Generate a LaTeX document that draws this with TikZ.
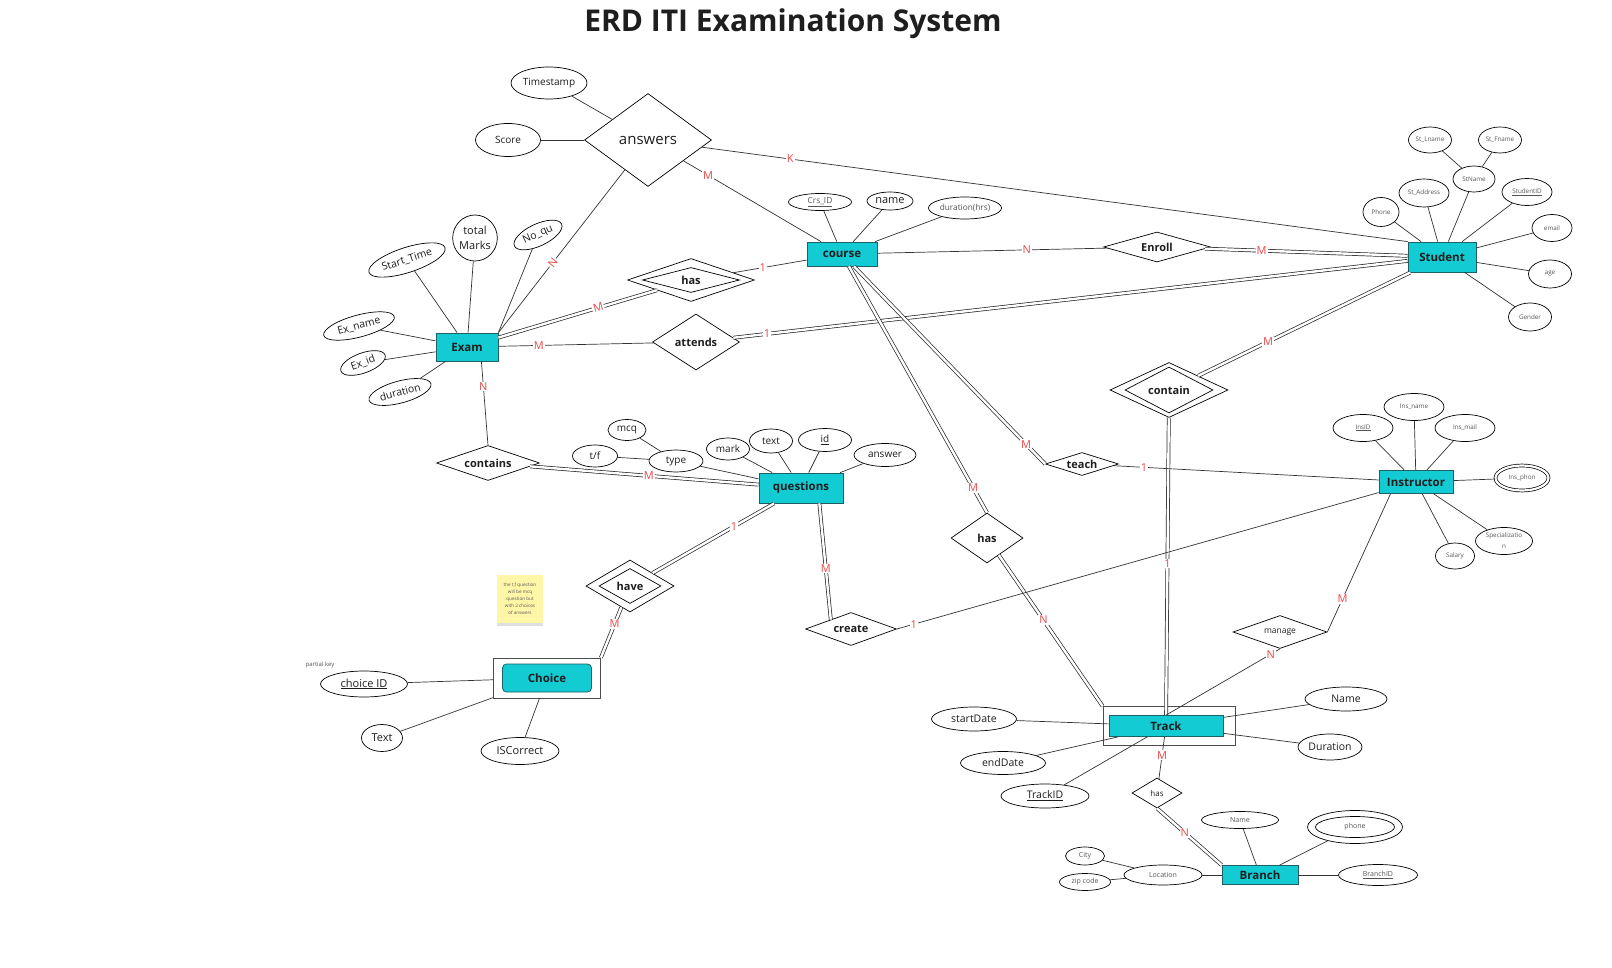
\documentclass[tikz,border=0pt]{standalone}
\usepackage{fontspec}
\setmainfont{Open Sans}
\usepackage{tikz}
\usetikzlibrary{shapes.geometric, shadows, positioning}
\definecolor{erdteal}{HTML}{12CBD3}
\definecolor{erdtealdark}{HTML}{1F5F66}
\definecolor{cardred}{HTML}{E84848}
\definecolor{inkdark}{HTML}{1E1E1E}
\definecolor{inkgrey}{HTML}{555555}
\definecolor{stickyyellow}{HTML}{FFF6A8}
\newcommand{\erdsize}[1]{\fontsize{#1}{#1}\selectfont}

\begin{document}
\begin{tikzpicture}[
  x=1pt, y=-1pt,
  entity/.style={rectangle, draw=erdtealdark, fill=erdteal, line width=0.8pt, minimum width=#1, minimum height=24pt, inner sep=0pt, font=\erdsize{11.5}\bfseries, text=inkdark},
  entity/.default=70pt,
  weakframe/.style 2 args={rectangle, draw=black!70, line width=0.8pt, fill=white, minimum width=#1, minimum height=#2, inner sep=0pt},
  attr/.style 2 args={ellipse, draw=black, line width=0.7pt, fill=white, minimum width=#1, minimum height=#2, inner sep=0pt, font=\erdsize{10.5}, text=inkdark},
  tinyattr/.style 2 args={attr={#1}{#2}, font=\erdsize{6.3}, text=inkgrey},
  rel/.style 2 args={diamond, draw=black, line width=0.7pt, fill=white, minimum width=#1pt, minimum height=#2pt, inner sep=0pt,
    /utils/exec={\pgfmathsetmacro\relaspect{#1/#2}}, aspect=\relaspect, font=\erdsize{11}\bfseries, text=inkdark},
  card/.style={text=cardred, fill=white, inner sep=1pt, font=\erdsize{11}},
  link/.style={draw=black!80, line width=0.7pt},
  dlink/.style={draw=black!85, line width=0.7pt, double=white, double distance=2.4pt}
]
  \useasboundingbox[fill=white] (0,0) rectangle (1612,968);

  % Title
  \node[font=\erdsize{30}\bfseries, text=inkdark] (title) at (793,24) {ERD ITI Examination System};

  % Entities
  \node[entity=62pt, minimum height=28pt] (exam) at (467,347) {Exam};
  \node[entity=70pt] (course) at (842,254) {course};
  \node[entity=68pt, minimum height=30pt] (student) at (1442,257) {Student};
  \node[entity=74pt, minimum height=23pt] (instructor) at (1416,482) {Instructor};
  \node[entity=84pt, minimum height=30pt] (questions) at (801,488) {questions};
  \node[entity=76pt, minimum height=19pt] (branch) at (1260,875) {Branch};

  % Weak entities
  \node[weakframe={107pt}{40pt}] (choiceout) at (547,678) {};
  \node[entity=89pt, minimum height=28pt, rounded corners=4pt] (choice) at (547,678) {Choice};
  \node[weakframe={132pt}{39pt}] (trackout) at (1169,726) {};
  \node[entity=114pt, minimum height=21pt] (track) at (1166,726) {Track};

  % Relationships
  \node[rel={127}{93}, font=\erdsize{15}] (answers) at (648,140) {answers};
  \node[rel={127}{43}] (hascourse) at (691,280) {};
  \node[rel={97}{25}] (hascoursein) at (691,280) {has};
  \node[rel={87}{56}] (attends) at (696,342) {attends};
  \node[rel={103}{35}] (contains) at (488,463) {contains};
  \node[rel={107}{30}] (enroll) at (1157,247) {Enroll};
  \node[rel={118}{55}] (contain) at (1169,390) {};
  \node[rel={88}{46}] (containin) at (1169,390) {contain};
  \node[rel={73}{23}] (teach) at (1082,464) {teach};
  \node[rel={72}{50}] (hastrack) at (987,538) {has};
  \node[rel={91}{33}] (create) at (851,629) {create};
  \node[rel={88}{52}] (have) at (630,586) {};
  \node[rel={62}{35}] (havein) at (630,586) {have};
  \node[rel={94}{33}, font=\erdsize{8.5}] (manage) at (1280,632) {manage};
  \node[rel={50}{30}, font=\erdsize{8}] (hasbranch) at (1157,793) {has};

  % answers attributes
  \node[attr={76pt}{32pt}, font=\erdsize{10}] (timestamp) at (549,83) {Timestamp};
  \node[attr={65pt}{33pt}, font=\erdsize{10}] (score) at (508,140) {Score};

  % Exam attributes
  \node[attr={41pt}{46pt}, align=center, font=\fontsize{11}{15}\selectfont] (totalmarks) at (475,238) {total\\Marks};
  \node[attr={52pt}{22pt}, rotate=25] (noqu) at (538,235) {No\_qu};
  \node[attr={80pt}{25pt}, rotate=18] (starttime) at (407,260) {Start\_Time};
  \node[attr={73pt}{22pt}, rotate=15] (exname) at (359,326) {Ex\_name};
  \node[attr={47pt}{20pt}, rotate=20] (exid) at (363,363) {Ex\_id};
  \node[attr={64pt}{22pt}, rotate=15] (exduration) at (400,392) {duration};

  % course attributes
  \node[attr={63pt}{17pt}, font=\erdsize{8.3}, text=inkgrey] (crsid) at (820,202) {\underline{Crs\_ID}};
  \node[attr={46pt}{18pt}, font=\erdsize{11}] (cname) at (890,201) {name};
  \node[attr={73pt}{22pt}, font=\erdsize{8.3}, text=inkgrey] (crsduration) at (965,208) {duration(hrs)};

  % Student attributes
  \node[tinyattr={43pt}{26pt}] (stlname) at (1430,140) {St\_Lname};
  \node[tinyattr={43pt}{26pt}] (stfname) at (1500,140) {St\_Fname};
  \node[tinyattr={42pt}{26pt}] (stname) at (1474,179) {StName};
  \node[tinyattr={50pt}{28pt}] (staddress) at (1424,193) {St\_Address};
  \node[tinyattr={50pt}{27pt}] (studentid) at (1527,192) {\underline{StudentID}};
  \node[tinyattr={36pt}{29pt}] (stphone) at (1381,212) {Phone};
  \node[tinyattr={40pt}{27pt}] (stemail) at (1552,228) {email};
  \node[tinyattr={43pt}{28pt}] (stage) at (1550,274) {age};
  \node[tinyattr={43pt}{28pt}] (stgender) at (1530,317) {Gender};

  % Instructor attributes
  \node[tinyattr={60pt}{27pt}] (insid) at (1363,428) {\underline{InsID}};
  \node[tinyattr={60pt}{27pt}] (insname) at (1414,407) {Ins\_name};
  \node[tinyattr={60pt}{27pt}] (insmail) at (1465,428) {Ins\_mail};
  \node[tinyattr={53pt}{25pt}, double, double distance=2.2pt] (insphon) at (1522,478) {Ins\_phon};
  \node[tinyattr={57pt}{27pt}, align=center, font=\fontsize{6.3}{11}\selectfont] (insspec) at (1504,541) {Specializatio\\n};
  \node[tinyattr={39pt}{26pt}] (salary) at (1455,556) {Salary};

  % questions attributes
  \node[attr={38pt}{21pt}, font=\erdsize{10}] (mcq) at (627,430) {mcq};
  \node[attr={45pt}{22pt}, font=\erdsize{10}] (tf) at (595,456) {t/f};
  \node[attr={54pt}{22pt}, font=\erdsize{10}] (qtype) at (676,461) {type};
  \node[attr={43pt}{22pt}, font=\erdsize{10}] (qmark) at (728,449) {mark};
  \node[attr={43pt}{24pt}, font=\erdsize{10}] (qtext) at (771,441) {text};
  \node[attr={53pt}{23pt}, font=\erdsize{10}] (qid) at (825,440) {\underline{id}};
  \node[attr={62pt}{23pt}, font=\erdsize{10}] (qanswer) at (885,455) {answer};

  % Choice attributes and note
  \node[attr={87pt}{26pt}, font=\erdsize{11}] (choiceid) at (364,684) {\underline{choice ID}};
  \node[attr={41pt}{27pt}, font=\erdsize{11}] (ctext) at (382,738) {Text};
  \node[attr={78pt}{27pt}, font=\erdsize{11}] (iscorrect) at (520,751) {ISCorrect};
  \node[font=\erdsize{6}, text=inkgrey] (partialkey) at (320,665) {partial key};
  \node[fill=stickyyellow, minimum width=46pt, minimum height=48pt, inner sep=1pt, align=center,
        font=\fontsize{4.6}{7}\selectfont, text=inkgrey,
        drop shadow={shadow xshift=0pt, shadow yshift=-2.5pt, opacity=0.25}] (sticky) at (520,599)
        {the t,f question\\will be mcq\\question but\\with 2 choices\\of answers};

  % Track attributes
  \node[attr={85pt}{24pt}] (startdate) at (974,719) {startDate};
  \node[attr={85pt}{23pt}] (enddate) at (1003,763) {endDate};
  \node[attr={88pt}{24pt}] (trackid) at (1045,796) {\underline{TrackID}};
  \node[attr={82pt}{24pt}] (trackname) at (1346,699) {Name};
  \node[attr={64pt}{26pt}] (trackduration) at (1330,747) {Duration};

  % Branch attributes
  \node[tinyattr={77pt}{17pt}, font=\erdsize{7}] (bname) at (1240,820) {Name};
  \node[tinyattr={95pt}{33pt}] (bphoneout) at (1355,827) {};
  \node[tinyattr={79pt}{21pt}, font=\erdsize{7}] (bphone) at (1355,827) {phone};
  \node[tinyattr={39pt}{18pt}, font=\erdsize{7}] (city) at (1085,856) {City};
  \node[tinyattr={78pt}{20pt}, font=\erdsize{7}] (location) at (1163,875) {Location};
  \node[tinyattr={51pt}{17pt}, font=\erdsize{7}] (zipcode) at (1085,882) {zip code};
  \node[tinyattr={79pt}{21pt}, font=\erdsize{7}] (branchid) at (1378,875) {\underline{BranchID}};

  % Total participation (double lines)
  \draw[dlink] (exam) -- (hascourse) node[card, pos=0.63, sloped] {M};
  \draw[dlink] (attends) -- (student) node[card, pos=0.05] {1};
  \draw[dlink] (contains) -- (questions) node[card, pos=0.52] {M};
  \draw[dlink] (enroll) -- (student) node[card, pos=0.28] {M};
  \draw[dlink] (course) -- (teach.west) node[card, pos=0.9] {M};
  \draw[dlink] (course) -- (hastrack.north) node[card, pos=0.9] {M};
  \draw[dlink] (hastrack) -- (trackout.north west) node[card, pos=0.43] {N};
  \draw[dlink] (student) -- (contain) node[card, pos=0.67] {M};
  \draw[dlink] (contain) -- (track) node[card, pos=0.49] {1};
  \draw[dlink] (questions) -- (have) node[card, pos=0.33] {1};
  \draw[dlink] (have) -- (choiceout.north east) node[card, pos=0.33] {M};
  \draw[dlink] (questions.-40) -- (create.155) node[card, pos=0.56] {M};
  \draw[dlink] (hasbranch.south) -- (branch.north west) node[card, pos=0.43] {N};

  % Partial participation
  \draw[link] (answers) -- (exam.north east) node[card, pos=0.57, sloped] {N};
  \draw[link] (answers) -- (course) node[card, pos=0.18] {M};
  \draw[link] (answers) -- (student.north west) node[card, pos=0.125] {K};
  \draw[link] (hascourse) -- (course) node[card, pos=0.4] {1};
  \draw[link] (exam) -- (attends) node[card, pos=0.26] {M};
  \draw[link] (exam.-45) -- (contains.north) node[card, pos=0.3] {N};
  \draw[link] (course) -- (enroll) node[card, pos=0.65] {N};
  \draw[link] (teach) -- (instructor) node[card, pos=0.115] {1};
  \draw[link] (create.east) -- (instructor) node[card, pos=0.035] {1};
  \draw[link] (instructor.-155) -- (manage.east) node[card, pos=0.76] {M};
  \draw[link] (manage.south) -- (track.north) node[card, pos=0.08] {N};
  \draw[link] (track) -- (hasbranch) node[card, pos=0.44] {M};

  % Attribute lines
  \draw[link] (timestamp) -- (answers);
  \draw[link] (score) -- (answers);
  \draw[link] (totalmarks) -- (exam);
  \draw[link] (noqu) -- (exam.north east);
  \draw[link] (starttime) -- (exam);
  \draw[link] (exname) -- (exam);
  \draw[link] (exid) -- (exam);
  \draw[link] (exduration) -- (exam);
  \draw[link] (crsid) -- (course);
  \draw[link] (cname) -- (course);
  \draw[link] (crsduration) -- (course);
  \draw[link] (stlname) -- (stname);
  \draw[link] (stfname) -- (stname);
  \draw[link] (stname) -- (student);
  \draw[link] (staddress) -- (student);
  \draw[link] (studentid) -- (student);
  \draw[link] (stphone) -- (student);
  \draw[link] (stemail) -- (student);
  \draw[link] (stage) -- (student);
  \draw[link] (stgender) -- (student);
  \draw[link] (insid) -- (instructor);
  \draw[link] (insname) -- (instructor);
  \draw[link] (insmail) -- (instructor);
  \draw[link] (insphon) -- (instructor);
  \draw[link] (insspec) -- (instructor);
  \draw[link] (salary) -- (instructor);
  \draw[link] (mcq) -- (qtype);
  \draw[link] (tf) -- (qtype);
  \draw[link] (qtype) -- (questions);
  \draw[link] (qmark) -- (questions);
  \draw[link] (qtext) -- (questions);
  \draw[link] (qid) -- (questions);
  \draw[link] (qanswer) -- (questions);
  \draw[link] (choiceid) -- (choiceout);
  \draw[link] (ctext) -- (choiceout);
  \draw[link] (iscorrect) -- (choiceout);
  \draw[link] (startdate) -- (track);
  \draw[link] (enddate) -- (track);
  \draw[link] (trackid) -- (track);
  \draw[link] (trackname) -- (track);
  \draw[link] (trackduration) -- (track);
  \draw[link] (bname) -- (branch);
  \draw[link] (bphoneout) -- (branch);
  \draw[link] (branchid) -- (branch);
  \draw[link] (location) -- (branch);
  \draw[link] (city) -- (location);
  \draw[link] (zipcode) -- (location);
\end{tikzpicture}
\end{document}
